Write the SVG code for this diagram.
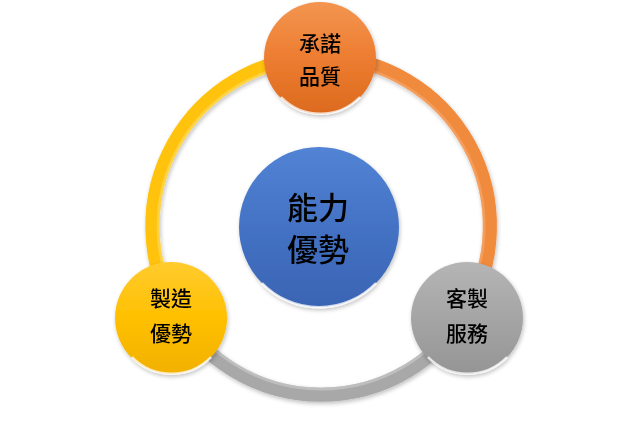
<svg xmlns="http://www.w3.org/2000/svg" width="640" height="427" viewBox="0 0 640 427">
<style>
.lbl{font-family:"Noto Sans CJK TC","Noto Sans CJK SC",sans-serif;fill:#000;font-weight:500;text-anchor:middle;dominant-baseline:central}
.s{font-size:21px}
.b{font-size:31px}
.ring{fill:none;stroke-width:14;stroke-linecap:butt}
.hl{fill:none;stroke-width:3}
.rim{fill:none;stroke:#fff;stroke-width:2.5;opacity:0.75}
</style>
<defs>
<linearGradient id="gO" x1="0" y1="0" x2="0" y2="1"><stop offset="0" stop-color="#F39550"/><stop offset="0.5" stop-color="#ED7D31"/><stop offset="1" stop-color="#DC6A1E"/></linearGradient>
<linearGradient id="gY" x1="0" y1="0" x2="0" y2="1"><stop offset="0" stop-color="#FFCB2E"/><stop offset="0.5" stop-color="#FFC000"/><stop offset="1" stop-color="#F2B000"/></linearGradient>
<linearGradient id="gG" x1="0" y1="0" x2="0" y2="1"><stop offset="0" stop-color="#B5B5B5"/><stop offset="0.5" stop-color="#A5A5A5"/><stop offset="1" stop-color="#959595"/></linearGradient>
<linearGradient id="gB" x1="0" y1="0" x2="0" y2="1"><stop offset="0" stop-color="#5283D4"/><stop offset="0.5" stop-color="#4472C4"/><stop offset="1" stop-color="#3A64B4"/></linearGradient>
<filter id="sh" x="-20%" y="-20%" width="140%" height="140%"><feGaussianBlur in="SourceAlpha" stdDeviation="2"/><feOffset dx="1" dy="2"/><feComponentTransfer><feFuncA type="linear" slope="0.25"/></feComponentTransfer><feMerge><feMergeNode/><feMergeNode in="SourceGraphic"/></feMerge></filter>
</defs>
<g id="connectors" filter="url(#sh)">
<path class="ring" stroke="#F08A3C" d="M321,57 A169,169 0 0 1 464,316"/>
<path class="hl" stroke="#F7B07A" opacity="0.5" d="M321,63 A163,163 0 0 1 459,313"/>
<path class="ring" stroke="#A8A8A8" d="M464,316 A169,169 0 0 1 177,314"/>
<path class="hl" stroke="#C8C8C8" opacity="0.7" d="M459,313 A163,163 0 0 1 182,311"/>
<path class="ring" stroke="#FFC20A" d="M177,314 A169,169 0 0 1 321,57"/>
<path class="hl" stroke="#FFD85A" opacity="0.7" d="M182,311 A163,163 0 0 1 321,63"/>
</g>
<g id="node-top" filter="url(#sh)">
<circle cx="320" cy="58" r="56" fill="url(#gO)"/>
<path class="rim" d="M360,97 A55,55 0 0 1 281,97" stroke="#FFE0C8"/>
<text class="lbl s" x="320" y="42">承諾</text>
<text class="lbl s" x="320" y="75">品質</text>
</g>
<g id="node-left" filter="url(#sh)">
<circle cx="171" cy="318" r="56" fill="url(#gY)"/>
<path class="rim" d="M211,357 A55,55 0 0 1 132,357"/>
<text class="lbl s" x="171" y="297">製造</text>
<text class="lbl s" x="171" y="332">優勢</text>
</g>
<g id="node-right" filter="url(#sh)">
<circle cx="467" cy="318" r="56" fill="url(#gG)"/>
<path class="rim" d="M507,357 A55,55 0 0 1 428,357"/>
<text class="lbl s" x="467" y="297">客製</text>
<text class="lbl s" x="467" y="332">服務</text>
</g>
<g id="node-center" filter="url(#sh)">
<circle cx="319" cy="227" r="80" fill="url(#gB)"/>
<path class="rim" d="M376,283 A79,79 0 0 1 262,283" stroke="#C8D6F0"/>
<text class="lbl b" x="318" y="205">能力</text>
<text class="lbl b" x="318" y="247">優勢</text>
</g>
</svg>
